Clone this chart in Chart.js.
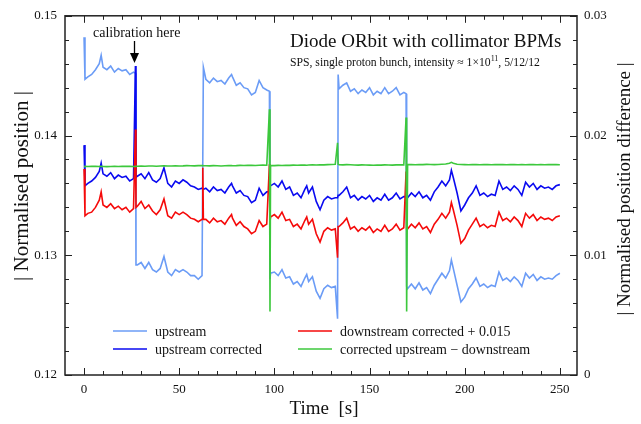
<!DOCTYPE html>
<html><head><meta charset="utf-8">
<script src="https://cdn.jsdelivr.net/npm/chart.js@4"></script>
<style>html,body{margin:0;padding:0;background:#fff}#wrap{width:641px;height:424px;position:relative}</style>
</head><body><div id="wrap"><canvas id="c" width="641" height="424"></canvas></div>
<script>
// Time [s]
const time = [
0,0.5,2,4,6,8,9,10,12,14,16,18,20,22,24,26,
27,27.3,
28,30,32,34,36,38,40,42,44,46,48,50,52,54,56,58,60,62,
62.4,62.7,
64,66,68,70,72,74,76,77.5,78,80,82,84,86,88,90,92,94,96,
97.4,97.7,
98,100,102,104,106,108,110,112,114,116,117,118,120,122,124,126,128,130,132,
133.2,133.5,
134,136,138,140,142,144,146,148,150,152,154,156,158,160,162,164,166,168,
169.2,169.5,
170,172,174,176,178,180,182,184,186,188,190,192,193,194,196,198,200,202,204,206,208,210,212,214,216,218,220,222,224,226,228,230,232,234,236,238,240,242,244,246,248,250
];
const upstream = [
0.1482,0.1447,0.1449,0.1451,0.1455,0.1460,0.1467,0.1457,0.1455,0.1458,0.1453,0.1456,0.1454,0.1455,0.1451,0.1453,
0.1452,0.1292,
0.1292,0.1294,0.1289,0.1294,0.1288,0.1286,0.1289,0.1299,0.1286,0.1283,0.1288,0.1286,0.1288,0.1286,0.1283,0.1283,0.1280,0.1283,
0.1283,0.1457,
0.1447,0.1444,0.1448,0.1445,0.1446,0.1443,0.1448,0.1451,0.1449,0.1442,0.1444,0.1440,0.1439,0.1434,0.1436,0.1446,0.1440,0.1438,
0.1437,0.1280,
0.1285,0.1286,0.1283,0.1288,0.1281,0.1282,0.1276,0.1278,0.1274,0.1281,0.1284,0.1278,0.1282,0.1270,0.1264,0.1272,0.1275,0.1273,0.1274,
0.1247,0.1451,
0.1439,0.1442,0.1444,0.1437,0.1439,0.1435,0.1438,0.1436,0.1440,0.1434,0.1437,0.1435,0.1440,0.1435,0.1437,0.1440,0.1434,0.1436,
0.1435,0.1274,
0.1272,0.1276,0.1272,0.1277,0.1271,0.1273,0.1268,0.1275,0.1280,0.1285,0.1281,0.1287,0.1296,0.1289,
0.1275,0.1261,0.1265,0.1272,0.1276,0.1281,0.1274,0.1276,0.1273,0.1275,0.1274,0.1286,0.1279,0.1281,0.1278,0.1282,0.1279,0.1274,0.1285,0.1281,0.1284,0.1279,0.1282,0.1280,0.1281,0.1280,0.1283,0.1285
];
const upstreamCorrected = [
0.1392,0.1358,0.1360,0.1362,0.1365,0.1370,0.1377,0.1368,0.1366,0.1369,0.1364,0.1367,0.1365,0.1366,0.1362,0.1364,
0.1458,0.1365,
0.1366,0.1368,0.1364,0.1369,0.1363,0.1361,0.1364,0.1373,0.1360,0.1357,0.1362,0.1360,0.1363,0.1361,0.1358,0.1357,0.1355,0.1356,
0.1356,0.1355,
0.1356,0.1353,0.1357,0.1354,0.1355,0.1352,0.1357,0.1360,0.1358,0.1352,0.1354,0.1350,0.1349,0.1344,0.1346,0.1356,0.1350,0.1353,
0.1353,0.1358,
0.1358,0.1360,0.1357,0.1362,0.1355,0.1357,0.1350,0.1352,0.1348,0.1355,0.1358,0.1352,0.1357,0.1345,0.1338,0.1346,0.1349,0.1347,0.1348,
0.1348,0.1350,
0.1350,0.1353,0.1357,0.1348,0.1350,0.1346,0.1349,0.1347,0.1350,0.1345,0.1348,0.1346,0.1351,0.1346,0.1348,0.1352,0.1347,0.1349,
0.1349,0.1348,
0.1348,0.1352,0.1349,0.1353,0.1348,0.1350,0.1346,0.1353,0.1357,0.1362,0.1358,0.1363,0.1371,0.1365,
0.1352,0.1337,0.1342,0.1348,0.1352,0.1358,0.1350,0.1352,0.1349,0.1351,0.1350,0.1362,0.1355,0.1357,0.1354,0.1358,0.1355,0.1350,0.1361,0.1357,0.1360,0.1355,0.1358,0.1356,0.1357,0.1355,0.1358,0.1359
];
const downstreamCorrectedPlus = [
0.1372,0.1333,0.1335,0.1336,0.1340,0.1346,0.1353,0.1342,0.1340,0.1343,0.1339,0.1341,0.1338,0.1340,0.1336,0.1339,
0.1405,0.1340,
0.1341,0.1345,0.1339,0.1342,0.1337,0.1334,0.1338,0.1347,0.1333,0.1331,0.1336,0.1334,0.1336,0.1334,0.1331,0.1330,0.1328,0.1330,
0.1373,0.1330,
0.1330,0.1327,0.1331,0.1328,0.1329,0.1326,0.1331,0.1334,0.1331,0.1325,0.1328,0.1324,0.1322,0.1318,0.1320,0.1329,0.1324,0.1326,
0.1376,0.1328,
0.1332,0.1334,0.1331,0.1336,0.1329,0.1330,0.1324,0.1326,0.1322,0.1329,0.1332,0.1326,0.1330,0.1318,0.1311,0.1320,0.1323,0.1321,0.1322,
0.1298,0.1324,
0.1324,0.1327,0.1331,0.1322,0.1324,0.1320,0.1323,0.1321,0.1324,0.1319,0.1322,0.1320,0.1325,0.1320,0.1322,0.1326,0.1321,0.1323,
0.1370,0.1322,
0.1322,0.1326,0.1323,0.1327,0.1322,0.1324,0.1319,0.1326,0.1330,0.1335,0.1331,0.1336,0.1344,0.1338,
0.1325,0.1310,0.1314,0.1321,0.1326,0.1331,0.1324,0.1326,0.1323,0.1325,0.1324,0.1336,0.1329,0.1331,0.1328,0.1332,0.1329,0.1324,0.1335,0.1331,0.1334,0.1329,0.1332,0.1330,0.1331,0.1329,0.1332,0.1333
];
const correctedDifference = [
0.01740,0.01742,0.01741,0.01743,0.01742,0.01741,0.01743,0.01742,0.01740,0.01742,0.01743,0.01741,0.01742,0.01743,0.01742,0.01741,
0.01742,0.01743,
0.01744,0.01745,0.01743,0.01746,0.01745,0.01744,0.01746,0.01747,0.01745,0.01746,0.01748,0.01746,0.01747,0.01749,0.01748,0.01747,0.01749,0.01750,
0.01750,0.01749,
0.01748,0.01747,0.01749,0.01748,0.01746,0.01748,0.01749,0.01750,0.01748,0.01749,0.01751,0.01750,0.01752,0.01751,0.01750,0.01752,0.01753,0.01752,
0.0222,0.0053,
0.01750,0.01749,0.01751,0.01750,0.01752,0.01751,0.01753,0.01752,0.01754,0.01753,0.01752,0.01754,0.01755,0.01754,0.01756,0.01755,0.01757,0.01758,0.01760,
0.0194,0.0176,
0.01756,0.01755,0.01757,0.01756,0.01754,0.01753,0.01755,0.01754,0.01753,0.01752,0.01754,0.01753,0.01755,0.01754,0.01753,0.01755,0.01756,0.01755,
0.0215,0.0053,
0.01757,0.01758,0.01756,0.01758,0.01757,0.01759,0.01758,0.01757,0.01758,0.01760,0.01762,0.01768,0.01776,0.01768,
0.01760,0.01758,0.01757,0.01756,0.01758,0.01757,0.01756,0.01758,0.01757,0.01756,0.01757,0.01758,0.01757,0.01756,0.01757,0.01758,0.01756,0.01757,0.01756,0.01757,0.01758,0.01756,0.01757,0.01756,0.01757,0.01758,0.01757,0.01756
];
const xTickLabels = [0,50,100,150,200,250];
const leftTickLabels = [0.12,0.13,0.14,0.15];
const rightTickLabels = [0,0.01,0.02,0.03];
const seriesNames = ['upstream','upstream corrected','downstream corrected + 0.015','corrected upstream \u2212 downstream'];

const COLORS = ['#6b9cf6','#0a0af0','#f50a0a','#3cc83c'];
const FONT = '"Liberation Serif", "DejaVu Serif", serif';
const pts = arr => time.map((t,i)=>({x:t,y:arr[i]}));

const decor = {
  id:'decor',
  afterDraw(chart){
    const ctx = chart.ctx, a = chart.chartArea;
    const xs = chart.scales.x, ys = chart.scales.y;
    ctx.save();
    // frame
    ctx.strokeStyle = '#222'; ctx.lineWidth = 1.5;
    ctx.strokeRect(a.left, a.top, a.right-a.left, a.bottom-a.top);
    // inward ticks
    ctx.lineWidth = 1;
    ctx.beginPath();
    for (let v=0; v<=250; v+=10){
      const px = Math.round(xs.getPixelForValue(v))+0.5;
      const L = (v%50===0)?7:4;
      ctx.moveTo(px,a.bottom); ctx.lineTo(px,a.bottom-L);
      ctx.moveTo(px,a.top); ctx.lineTo(px,a.top+L);
    }
    for (let k=0; k<=15; k++){
      const v = 0.12 + k*0.002;
      const py = Math.round(ys.getPixelForValue(v))+0.5;
      const L = (k%5===0)?7:4;
      ctx.moveTo(a.left,py); ctx.lineTo(a.left+L,py);
      ctx.moveTo(a.right,py); ctx.lineTo(a.right-L,py);
    }
    ctx.stroke();

    ctx.fillStyle = '#111';
    // title
    ctx.textBaseline = 'alphabetic'; ctx.textAlign = 'left';
    ctx.font = '19px ' + FONT;
    ctx.fillText('Diode ORbit with collimator BPMs', 290, 47);
    // subtitle with superscript
    ctx.font = '11.7px ' + FONT;
    let sx = 290;
    const s1 = 'SPS, single proton bunch, intensity \u2248 1\u00d710';
    ctx.fillText(s1, sx, 66); sx += ctx.measureText(s1).width;
    ctx.font = '8px ' + FONT;
    ctx.fillText('11', sx, 61); sx += ctx.measureText('11').width;
    ctx.font = '11.7px ' + FONT;
    ctx.fillText(', 5/12/12', sx, 66);

    // annotation
    ctx.font = '14px ' + FONT;
    ctx.fillText('calibration here', 93, 37);
    const ax = 134.5;
    ctx.strokeStyle = '#000'; ctx.lineWidth = 1.3;
    ctx.beginPath(); ctx.moveTo(ax, 41); ctx.lineTo(ax, 55); ctx.stroke();
    ctx.fillStyle = '#000';
    ctx.beginPath(); ctx.moveTo(ax-4.5, 53); ctx.lineTo(ax+4.5, 53); ctx.lineTo(ax, 63); ctx.closePath(); ctx.fill();

    // legend
    ctx.fillStyle = '#111';
    ctx.font = '14px ' + FONT;
    const leg = [[113,331],[113,349],[298,331],[298,349]];
    [0,1,2,3].forEach((i)=>{
      const [lx,ly] = leg[i];
      ctx.strokeStyle = COLORS[i]; ctx.lineWidth = 1.5;
      ctx.beginPath(); ctx.moveTo(lx, ly); ctx.lineTo(lx+34, ly); ctx.stroke();
      ctx.textBaseline = 'middle';
      ctx.fillText(seriesNames[i], lx+42, ly+1);
    });

    // axis titles
    ctx.fillStyle = '#111';
    ctx.font = '19px ' + FONT;
    ctx.textAlign = 'center'; ctx.textBaseline = 'alphabetic';
    ctx.fillText('Time  [s]', 324, 414);
    ctx.save();
    ctx.font = '21px ' + FONT;
    ctx.translate(28, 186); ctx.rotate(-Math.PI/2);
    ctx.fillText('| Normalised position |', 0, 0);
    ctx.restore();
    ctx.save();
    ctx.translate(630, 189); ctx.rotate(-Math.PI/2);
    ctx.fillText('| Normalised position difference |', 0, 0);
    ctx.restore();
    ctx.restore();
  }
};

new Chart(document.getElementById('c'), {
  type:'line',
  data:{ datasets:[
    {label:seriesNames[0], data:pts(upstream), borderColor:COLORS[0], yAxisID:'y', order:3},
    {label:seriesNames[1], data:pts(upstreamCorrected), borderColor:COLORS[1], yAxisID:'y', order:2},
    {label:seriesNames[2], data:pts(downstreamCorrectedPlus), borderColor:COLORS[2], yAxisID:'y', order:1},
    {label:seriesNames[3], data:pts(correctedDifference), borderColor:COLORS[3], yAxisID:'y2', order:0}
  ]},
  options:{
    responsive:false, animation:false, devicePixelRatio:1,
    layout:{padding:{top:13,left:0,right:0,bottom:0}},
    elements:{line:{borderWidth:1.6, tension:0}, point:{radius:0}},
    plugins:{legend:{display:false}, tooltip:{enabled:false}},
    scales:{
      x:{type:'linear', min:-10, max:259,
        grid:{display:false, drawTicks:false}, border:{display:false},
        afterBuildTicks:s=>{s.ticks = xTickLabels.map(v=>({value:v}));},
        afterFit:s=>{s.height=49;},
        ticks:{padding:7, color:'#111', font:{family:FONT,size:13}, maxRotation:0, callback:v=>String(v)}},
      y:{type:'linear', position:'left', min:0.12, max:0.15,
        grid:{display:false, drawTicks:false}, border:{display:false},
        afterBuildTicks:s=>{s.ticks = leftTickLabels.map(v=>({value:v}));},
        afterFit:s=>{s.width=65;},
        ticks:{padding:8, color:'#111', font:{family:FONT,size:13}, callback:v=>v.toFixed(2)}},
      y2:{type:'linear', position:'right', min:0, max:0.03,
        grid:{display:false, drawTicks:false}, border:{display:false},
        afterBuildTicks:s=>{s.ticks = rightTickLabels.map(v=>({value:v}));},
        afterFit:s=>{s.width=64;},
        ticks:{padding:7, color:'#111', font:{family:FONT,size:13}, callback:v=>v===0?'0':v.toFixed(2)}}
    }
  },
  plugins:[decor]
});
</script></body></html>
